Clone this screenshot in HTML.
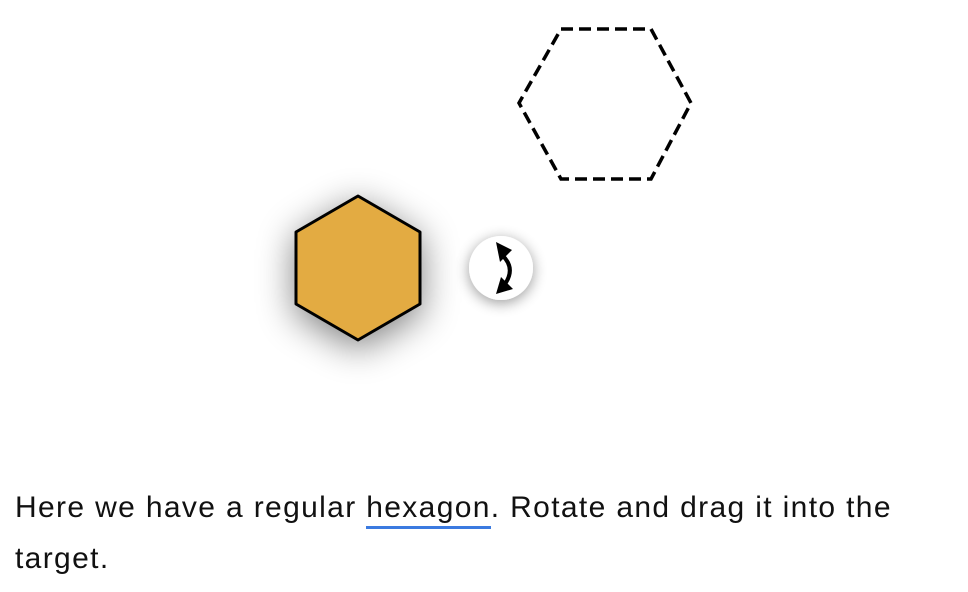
<!DOCTYPE html>
<html><head><meta charset="utf-8"><style>
html,body{margin:0;padding:0;background:#fff;width:968px;height:592px;overflow:hidden}
svg{position:absolute;left:0;top:0}
#text{position:absolute;left:15px;top:482px;width:940px;font-family:"Liberation Sans",sans-serif;font-size:30px;letter-spacing:1.35px;line-height:51px;color:#111;white-space:nowrap}
.u{border-bottom:3px solid #3b7ae0;padding-bottom:2px}
</style></head><body>
<svg width="968" height="592">
<defs>
<filter id="sh" x="-60%" y="-60%" width="220%" height="220%"><feGaussianBlur in="SourceAlpha" stdDeviation="18"/><feOffset dy="8"/><feComponentTransfer><feFuncA type="linear" slope="0.5"/></feComponentTransfer><feMerge><feMergeNode/><feMergeNode in="SourceGraphic"/></feMerge></filter>
<filter id="sh2" x="-60%" y="-60%" width="220%" height="220%"><feGaussianBlur in="SourceAlpha" stdDeviation="7"/><feOffset dy="3"/><feComponentTransfer><feFuncA type="linear" slope="0.4"/></feComponentTransfer><feMerge><feMergeNode/><feMergeNode in="SourceGraphic"/></feMerge></filter>
</defs>
<polygon points="561,29 651,29 691,103 651,179 561,179 519,103" fill="none" stroke="#000" stroke-width="3.5" stroke-dasharray="12,6"/>
<polygon filter="url(#sh)" points="358,196 420,232 420,304 358,340 296,304 296,232" fill="#e3ab42" stroke="#000" stroke-width="3" stroke-linejoin="round"/>
<g filter="url(#sh2)">
<circle cx="501" cy="268" r="32" fill="#fff"/>
</g>
<path d="M502,255 Q516,268 505,284" fill="none" stroke="#000" stroke-width="4"/>
<polygon points="496,242 512,250 500,262" fill="#000"/>
<polygon points="496,294 513,289 501,277" fill="#000"/>
</svg>
<div id="text">Here we have a regular <span class="u">hexagon</span>. Rotate and drag it into the<br>target.</div>
</body></html>
